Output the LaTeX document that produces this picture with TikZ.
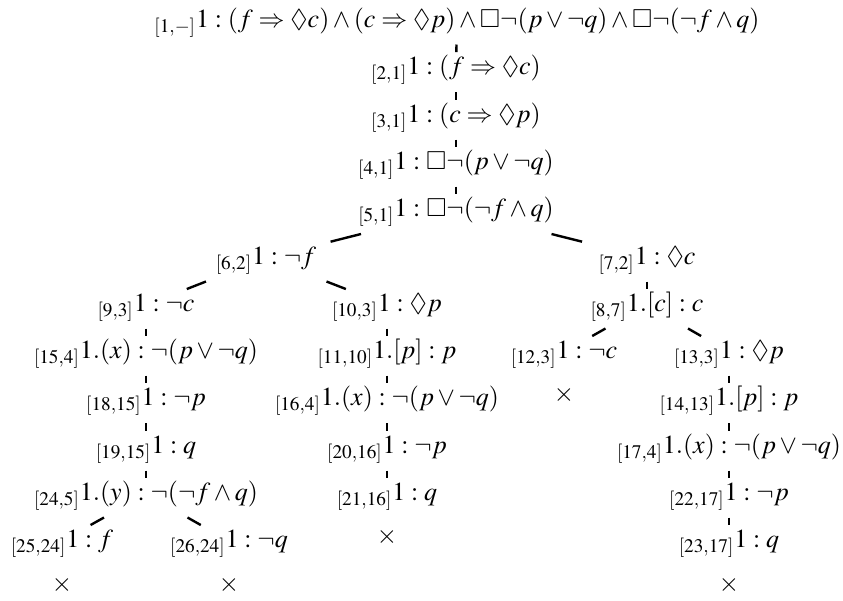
\documentclass[tikz,border=0pt]{standalone}
\usepackage{mathptmx}
\usepackage{amssymb}
\usetikzlibrary{calc}

\newcommand{\tabedge}[2]{\draw[branch] ($(#1)!.5!(#2)$) -- ($(#1)!.66!(#2)$);}

\begin{document}
\begin{tikzpicture}[x=0.5pt,y=-0.5pt]
        \tikzstyle{entry}=[font=\fontsize{13pt}{15pt}\selectfont, text height=9pt, text depth=3pt, inner sep=0pt]
        \tikzstyle{closed}=[font=\fontsize{13pt}{15pt}\selectfont, inner sep=0pt]
        \tikzstyle{branch}=[line width=1.2pt]
        \useasboundingbox (0,0) rectangle (843,601);

        % trunk
        \node[entry] (n1) at (457,21) {${}_{[1,-]}1:(f\Rightarrow\Diamond c)\wedge(c\Rightarrow\Diamond p)\wedge\Box\neg(p\vee\neg q)\wedge\Box\neg(\neg f\wedge q)$};
        \node[entry] (n2) at (456,68) {${}_{[2,1]}1:(f\Rightarrow\Diamond c)$};
        \node[entry] (n3) at (456,116) {${}_{[3,1]}1:(c\Rightarrow\Diamond p)$};
        \node[entry] (n4) at (456,163) {${}_{[4,1]}1:\Box\neg(p\vee\neg q)$};
        \node[entry] (n5) at (456,210) {${}_{[5,1]}1:\Box\neg(\neg f\wedge q)$};

        % first split
        \node[entry] (n6) at (266,258) {${}_{[6,2]}1:\neg f$};
        \node[entry] (n7) at (647,258) {${}_{[7,2]}1:\Diamond c$};

        \node[entry] (n9) at (146,305) {${}_{[9,3]}1:\neg c$};
        \node[entry] (n10) at (387,305) {${}_{[10,3]}1:\Diamond p$};
        \node[entry] (n8) at (647,305) {${}_{[8,7]}1.[c]:c$};

        \node[entry] (n15) at (146,352) {${}_{[15,4]}1.(x):\neg(p\vee\neg q)$};
        \node[entry] (n11) at (387,352) {${}_{[11,10]}1.[p]:p$};
        \node[entry] (n12) at (564,352) {${}_{[12,3]}1:\neg c$};
        \node[entry] (n13) at (729,352) {${}_{[13,3]}1:\Diamond p$};

        \node[entry] (n18) at (146,399) {${}_{[18,15]}1:\neg p$};
        \node[entry] (n16) at (387,399) {${}_{[16,4]}1.(x):\neg(p\vee\neg q)$};
        \node[closed] (x12) at (564,395) {$\times$};
        \node[entry] (n14) at (729,399) {${}_{[14,13]}1.[p]:p$};

        \node[entry] (n19) at (146,447) {${}_{[19,15]}1:q$};
        \node[entry] (n20) at (387,447) {${}_{[20,16]}1:\neg p$};
        \node[entry] (n17) at (729,447) {${}_{[17,4]}1.(x):\neg(p\vee\neg q)$};

        \node[entry] (n24) at (146,494) {${}_{[24,5]}1.(y):\neg(\neg f\wedge q)$};
        \node[entry] (n21) at (387,494) {${}_{[21,16]}1:q$};
        \node[entry] (n22) at (729,494) {${}_{[22,17]}1:\neg p$};

        \node[entry] (n25) at (62,541) {${}_{[25,24]}1:f$};
        \node[entry] (n26) at (229,541) {${}_{[26,24]}1:\neg q$};
        \node[closed] (x21) at (387,537) {$\times$};
        \node[entry] (n23) at (729,541) {${}_{[23,17]}1:q$};

        \node[closed] (x25) at (62,585) {$\times$};
        \node[closed] (x26) at (229,585) {$\times$};
        \node[closed] (x23) at (729,585) {$\times$};

        % branches
        \tabedge{n1}{n2} \tabedge{n2}{n3} \tabedge{n3}{n4} \tabedge{n4}{n5}
        \tabedge{n5}{n6} \tabedge{n5}{n7}
        \tabedge{n6}{n9} \tabedge{n6}{n10} \tabedge{n7}{n8}
        \tabedge{n9}{n15} \tabedge{n15}{n18} \tabedge{n18}{n19} \tabedge{n19}{n24}
        \tabedge{n24}{n25} \tabedge{n24}{n26}
        \tabedge{n10}{n11} \tabedge{n11}{n16} \tabedge{n16}{n20} \tabedge{n20}{n21}
        \tabedge{n8}{n12} \tabedge{n8}{n13}
        \tabedge{n13}{n14} \tabedge{n14}{n17} \tabedge{n17}{n22} \tabedge{n22}{n23}
    \end{tikzpicture}
\end{document}
